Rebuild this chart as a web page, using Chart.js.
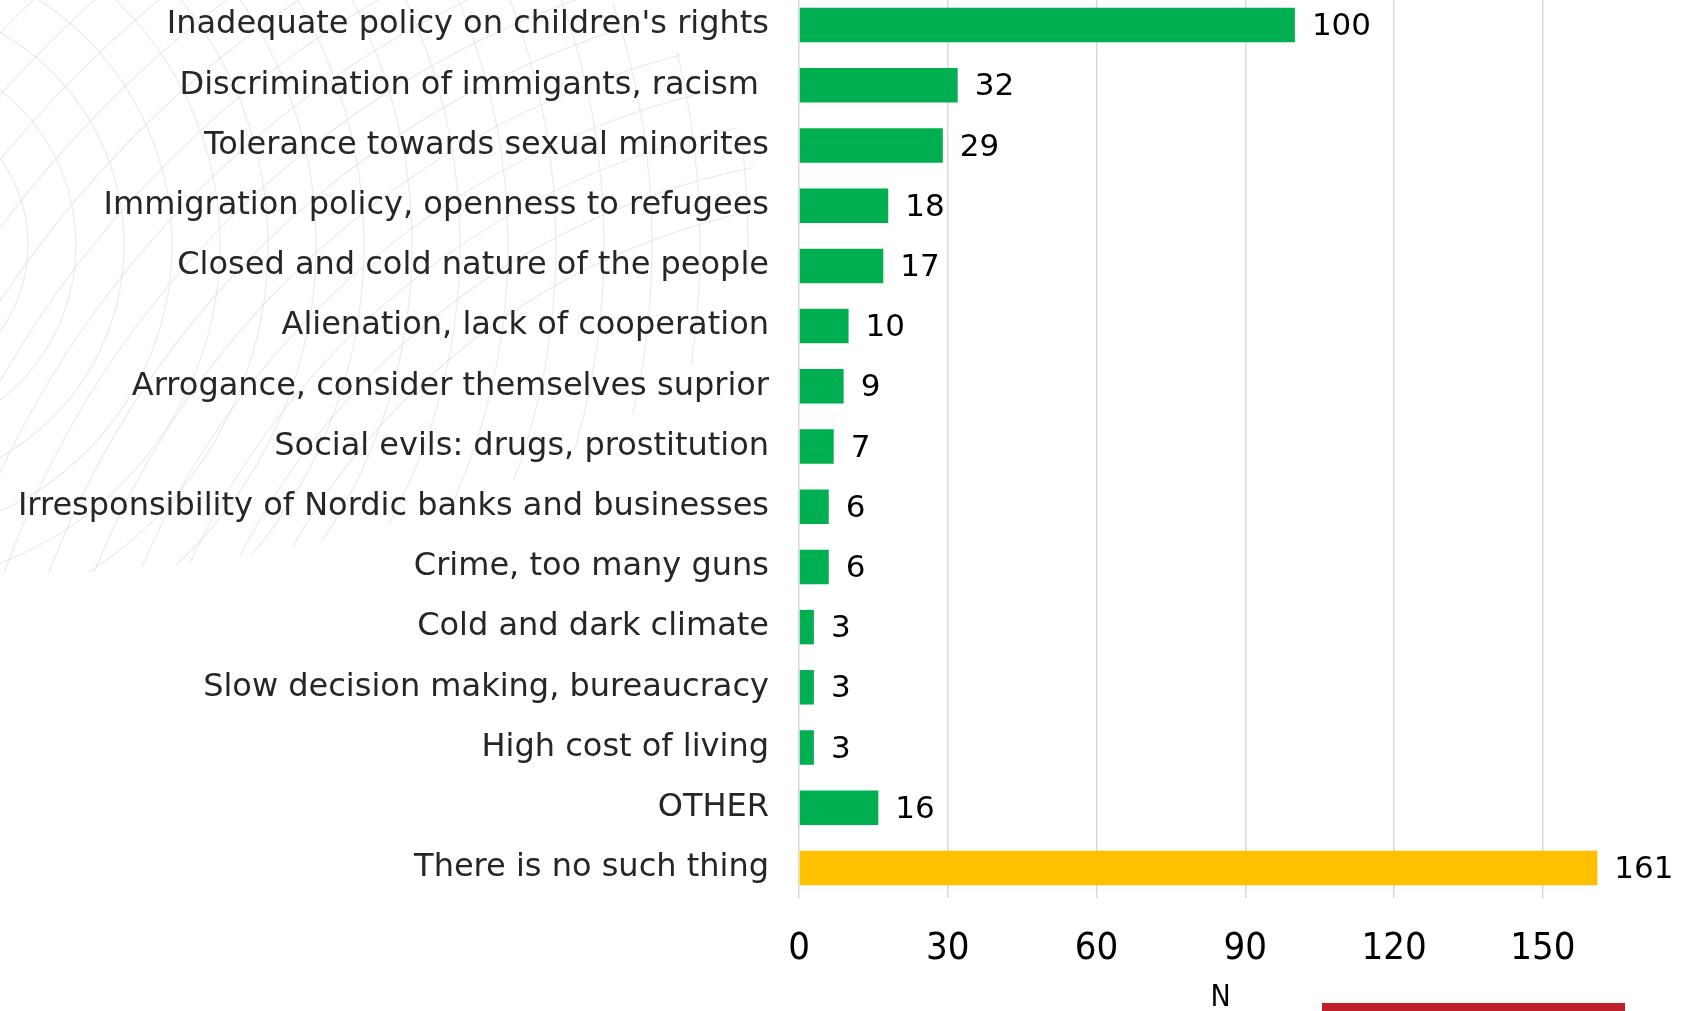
<!DOCTYPE html>
<html lang="en">
<head>
<meta charset="UTF-8">
<title>Negative aspects</title>
<script src="https://cdn.jsdelivr.net/npm/chart.js"></script>
<style>
  html, body { margin: 0; padding: 0; background: #fff; overflow: hidden; }
  #wrap { position: absolute; left: 0; top: -5px; width: 1691px; height: 1025px; }
  #redbar { position: absolute; left: 1322px; top: 1003px; width: 303px; height: 8px; background: #c0202a; }
</style>
</head>
<body>
<div id="wrap"><canvas id="chart"></canvas></div>
<div id="redbar"></div>
<script>
const categories = [
  "Inadequate policy on children's rights",
  "Discrimination of immigants, racism ",
  "Tolerance towards sexual minorites",
  "Immigration policy, openness to refugees",
  "Closed and cold nature of the people",
  "Alienation, lack of cooperation",
  "Arrogance, consider themselves suprior",
  "Social evils: drugs, prostitution",
  "Irresponsibility of Nordic banks and businesses",
  "Crime, too many guns",
  "Cold and dark climate",
  "Slow decision making, bureaucracy",
  "High cost of living",
  "OTHER",
  "There is no such thing"
];
const counts = [100, 32, 29, 18, 17, 10, 9, 7, 6, 6, 3, 3, 3, 16, 161];
const tickValues = [0, 30, 60, 90, 120, 150];
const axisTitle = "N";

const green = '#00b050';
const yellow = '#ffc000';
const labelFont = "'DejaVu Sans', Verdana, sans-serif";
const tickFont = "'DejaVu Sans Condensed', 'DejaVu Sans', sans-serif";

// faint background swirl like the slide template
const swirl = {
  id: 'swirl',
  beforeDraw(chart) {
    const ctx = chart.ctx;
    ctx.save();
    ctx.beginPath();
    ctx.ellipse(0, 220, 760, 360, 0, 0, Math.PI * 2);
    ctx.clip();
    ctx.strokeStyle = 'rgba(205, 212, 222, 0.45)';
    ctx.lineWidth = 1.2;
    for (let r = 100; r <= 900; r += 48) {
      ctx.beginPath();
      ctx.arc(-120, 250, r, 0, Math.PI * 2);
      ctx.stroke();
    }
    for (let r = 700; r <= 1400; r += 42) {
      ctx.beginPath();
      ctx.arc(900, 900, r, 0, Math.PI * 2);
      ctx.stroke();
    }
    ctx.restore();
  }
};

// value labels at the end of each bar
const barValues = {
  id: 'barValues',
  afterDatasetsDraw(chart) {
    const ctx = chart.ctx;
    const meta = chart.getDatasetMeta(0);
    ctx.save();
    ctx.font = '31px ' + labelFont;
    ctx.fillStyle = '#000';
    ctx.textAlign = 'left';
    ctx.textBaseline = 'middle';
    meta.data.forEach((bar, i) => {
      ctx.fillText(String(counts[i]), bar.x + 17, bar.y + 2);
    });
    ctx.restore();
  }
};

new Chart(document.getElementById('chart'), {
  type: 'bar',
  data: {
    labels: categories,
    datasets: [{
      data: counts,
      backgroundColor: categories.map((c, i) => i === categories.length - 1 ? yellow : green),
      borderWidth: 0,
      barPercentage: 0.573,
      categoryPercentage: 1
    }]
  },
  options: {
    indexAxis: 'y',
    responsive: true,
    maintainAspectRatio: false,
    animation: false,
    layout: { padding: { left: 0, right: 49, top: 0, bottom: 0 } },
    plugins: {
      legend: { display: false },
      tooltip: { enabled: false }
    },
    scales: {
      x: {
        min: 0,
        max: 170,
        afterBuildTicks: (s) => { s.ticks = tickValues.map(v => ({ value: v })); },
        afterFit: (s) => { s.height = 122; s.paddingLeft = 0; s.paddingRight = 0; },
        grid: { color: '#d9d9d9', lineWidth: 1.5, drawTicks: false },
        border: { display: false },
        ticks: { color: '#000', padding: 28, font: { family: tickFont, size: 38 } },
        title: { display: true, text: axisTitle, color: '#000', font: { family: tickFont, size: 30 }, padding: { top: 4, bottom: 4 } }
      },
      y: {
        afterFit: (s) => { s.width = 799; s.paddingTop = 0; s.paddingBottom = 0; },
        grid: { display: false, drawTicks: false },
        border: { display: false },
        ticks: { color: '#262626', padding: 30, autoSkip: false, font: { family: labelFont, size: 32 } }
      }
    }
  },
  plugins: [swirl, barValues]
});
</script>
</body>
</html>
